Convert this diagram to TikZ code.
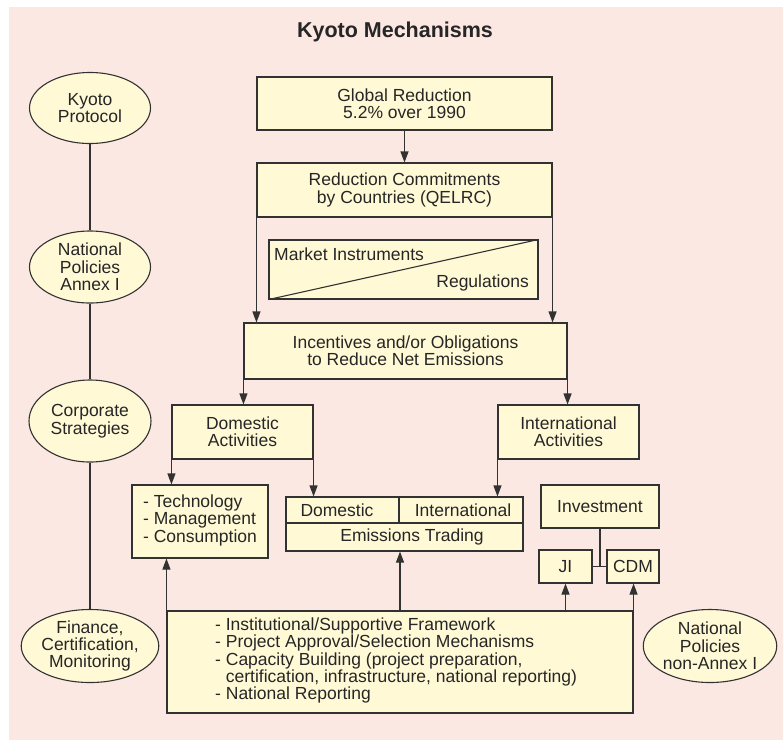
\documentclass[tikz,border=0pt]{standalone}
\usepackage{fontspec}
\setmainfont{Liberation Sans}
\usetikzlibrary{arrows.meta,shapes.geometric}
\definecolor{bgpink}{RGB}{252,232,226}
\definecolor{boxfill}{RGB}{255,249,214}
\definecolor{linecol}{RGB}{50,50,50}
\begin{document}
\begin{tikzpicture}[x=1pt,y=-1pt,
  every node/.style={font=\fontsize{17.5}{17.4}\selectfont, text=black!85},
  box/.style={draw=linecol, fill=boxfill, line width=1.1pt, inner sep=0pt, align=center},
  ell/.style={draw=linecol, fill=boxfill, line width=1.1pt, ellipse, inner sep=0pt, align=center},
  conn/.style={draw=linecol, line width=1.1pt},
  arr/.style={conn, -{Triangle[length=11pt,width=8pt]}},
  plain/.style={inner sep=0pt}
]
\useasboundingbox (0,0) rectangle (783,740);
\fill[bgpink] (9,7) rectangle (783,740);

\node[plain, font=\fontsize{21.5}{22}\selectfont\bfseries] (title) at (395,32) {Kyoto Mechanisms};

% left ellipses
\node[ell, minimum width=121pt, minimum height=71pt] (kp) at (90,108) {Kyoto\\Protocol};
\node[ell, minimum width=121pt, minimum height=72pt] (np) at (90,267) {National\\Policies\\Annex I};
\node[ell, minimum width=122pt, minimum height=82pt] (cs) at (90,421) {Corporate\\Strategies};
\node[ell, minimum width=122pt, minimum height=73pt] (fin) at (90,646) {Finance,\\Certification,\\Monitoring};
\node[ell, minimum width=122pt, minimum height=73pt] (npn) at (710,646) {National\\Policies\\non-Annex I};

\draw[conn] (kp.south) -- (np.north);
\draw[conn] (np.south) -- (cs.north);
\draw[conn] (cs.south) -- (fin.north);

% main boxes
\node[box, minimum width=295pt, minimum height=53pt] (glob) at (404.5,103.5) {Global Reduction\\5.2\% over 1990};
\node[box, minimum width=295pt, minimum height=54pt] (red) at (404.5,190) {Reduction Commitments\\by Countries (QELRC)};
\node[box, minimum width=269pt, minimum height=59pt] (mkt) at (403.5,269.5) {};
\draw[conn] (mkt.south west) -- (mkt.north east);
\node[plain, anchor=west] (mkttxt) at (274,254) {Market Instruments};
\node[plain, anchor=east] (regtxt) at (529,283) {Regulations};
\node[box, minimum width=323pt, minimum height=56pt] (inc) at (405.5,351) {Incentives and/or Obligations\\to Reduce Net Emissions};
\node[box, minimum width=141pt, minimum height=54pt] (dom) at (242.5,432) {Domestic\\Activities};
\node[box, minimum width=141pt, minimum height=54pt] (intl) at (568.5,432) {International\\Activities};
\node[box, minimum width=136pt, minimum height=73pt] (tech) at (200,521.5) {\begin{tabular}{@{}l@{}}- Technology\\- Management\\- Consumption\end{tabular}};
\node[box, minimum width=237pt, minimum height=54pt] (emis) at (404.5,524) {};
\draw[conn] (emis.west |- 0,523) -- (emis.east |- 0,523);
\draw[conn] (399,0 |- emis.north) -- (399,523);
\node[plain] (edom) at (337,510) {Domestic};
\node[plain] (eint) at (463,510) {International};
\node[plain] (etr) at (412,537) {Emissions Trading};
\node[box, minimum width=118pt, minimum height=43pt] (inv) at (600,506.5) {Investment};
\node[box, minimum width=53pt, minimum height=33pt] (ji) at (565.5,566.5) {JI};
\node[box, minimum width=52pt, minimum height=33pt] (cdm) at (633,566.5) {CDM};
\node[box, minimum width=466pt, minimum height=102pt] (bot) at (400,662) {};
\node[plain, anchor=north west, align=left] (bottxt) at (215,617.5) {- Institutional/Supportive Framework\\- Project Approval/Selection Mechanisms\\- Capacity Building (project preparation,\\\phantom{- }certification, infrastructure, national reporting)\\- National Reporting};

% connectors
\draw[arr] (glob.south) -- (red.north);
\draw[arr] (red.south west) -- (red.south west |- inc.north);
\draw[arr] (red.south east) -- (red.south east |- inc.north);
\draw[arr] (inc.south west) -- (inc.south west |- dom.north);
\draw[arr] (inc.south east) -- (inc.south east |- intl.north);
\draw[arr] (dom.south west) -- (dom.south west |- tech.north);
\draw[arr] (dom.south east) -- (dom.south east |- emis.north);
\draw[arr] (intl.south west) -- (intl.south west |- emis.north);
\draw[arr] (bot.north west) -- (bot.north west |- tech.south);
\draw[arr] (bot.north) -- (bot.north |- emis.south);
\draw[arr] (ji.south |- bot.north) -- (ji.south);
\draw[arr] (bot.north east) -- (bot.north east |- cdm.south);
\draw[conn] (inv.south) -- (inv.south |- ji.east);
\draw[conn] (ji.east) -- (cdm.west);
\end{tikzpicture}
\end{document}
